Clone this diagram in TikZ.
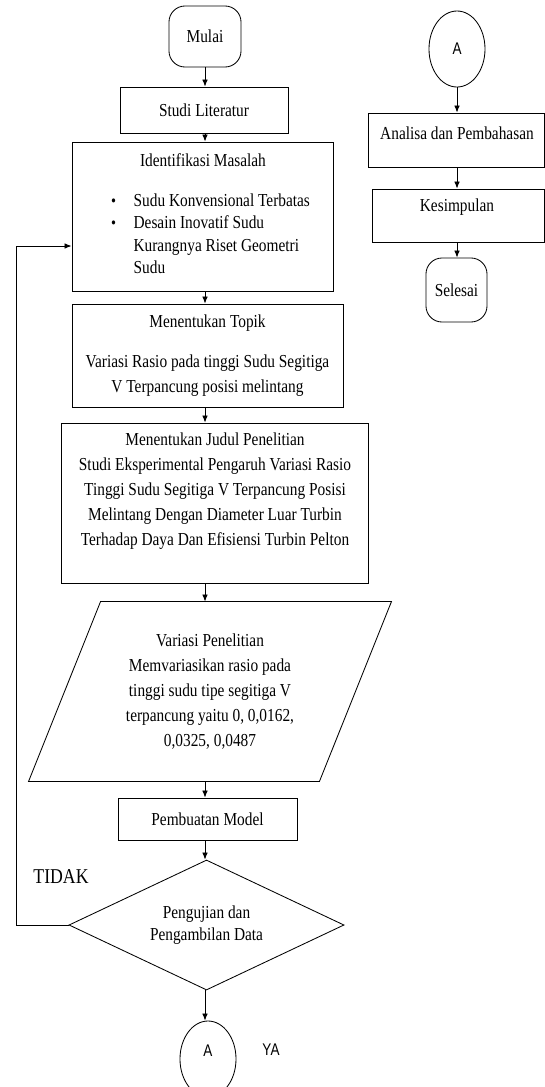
\documentclass[tikz,border=0pt]{standalone}
\usepackage{fontspec}
\setmainfont{Liberation Serif}[FakeStretch=0.84]
\newfontfamily\sansteks{Liberation Sans}[FakeStretch=0.8]
\usetikzlibrary{shapes.geometric,arrows.meta}

\tikzset{
  proses/.style={draw, rectangle, inner sep=0pt},
  terminal/.style={draw, rectangle, rounded corners=0.4cm, inner sep=0pt},
  konektor/.style={draw, ellipse, inner sep=0pt, minimum width=1.4cm, minimum height=1.9cm, font=\sansteks\fontsize{12}{14}\selectfont},
  keputusan/.style={draw, diamond, aspect=2.1, inner sep=0pt, align=center, font=\fontsize{13}{16}\selectfont},
  panah/.style={-{Latex[length=5pt,width=4pt]}},
  teks/.style={align=center}
}

\begin{document}
\begin{tikzpicture}[x=0.025cm, y=-0.025cm, line width=0.6pt,
  every node/.style={font=\fontsize{13}{17.8}\selectfont}]
\useasboundingbox (0,0) rectangle (545,1087);

% kolom kiri
\path (205,36.5) node[terminal, minimum width=1.8cm, minimum height=1.525cm] (mulai) {Mulai};
\path (204,110) node[proses, minimum width=4.2cm, minimum height=1.15cm] (studi) {Studi Literatur};

\path (202.5,216.5) node[proses, minimum width=6.525cm, minimum height=3.725cm] (identif) {};
\path (203,160) node (identJudul) {Identifikasi Masalah};
\path (106,233.5) node[anchor=west, align=left, font=\fontsize{13}{16}\selectfont] (identIsi)
  {\makebox[16pt][l]{\large\textbullet}Sudu Konvensional Terbatas\\
   \makebox[16pt][l]{\large\textbullet}Desain Inovatif Sudu\\
   \hspace*{16pt}Kurangnya Riset Geometri\\
   \hspace*{16pt}Sudu};

\path (207.5,355.5) node[proses, teks, minimum width=6.775cm, minimum height=2.575cm] (topik)
  {Menentukan Topik\\[11pt]Variasi Rasio pada tinggi Sudu Segitiga\\V Terpancung posisi melintang};

\path (214.5,503) node[proses, minimum width=7.675cm, minimum height=4cm] (judul) {};
\path (215,491.5) node[teks] (judulIsi)
  {Menentukan Judul Penelitian\\Studi Eksperimental Pengaruh Variasi Rasio\\Tinggi Sudu Segitiga V Terpancung Posisi\\Melintang Dengan Diameter Luar Turbin\\Terhadap Daya Dan Efisiensi Turbin Pelton};

% jajaran genjang
\path (210,691.5) node[teks, inner sep=0pt, minimum width=7.25cm, minimum height=4.475cm] (variasi)
  {Variasi Penelitian\\Memvariasikan rasio pada\\tinggi sudu tipe segitiga V\\terpancung yaitu 0, 0,0162,\\0,0325, 0,0487};
\draw ([xshift=0.9cm]variasi.north west) -- ([xshift=0.9cm]variasi.north east)
  -- ([xshift=-0.9cm]variasi.south east) -- ([xshift=-0.9cm]variasi.south west) -- cycle;

\path (207.5,819) node[proses, minimum width=4.475cm, minimum height=1.05cm] (model) {Pembuatan Model};
\path (206.5,925) node[keputusan, minimum width=6.875cm, minimum height=3.25cm] (uji) {Pengujian dan\\Pengambilan Data};
\path (208,1059) node[konektor] (a2) {\raisebox{6pt}[0.7em][0pt]{A}};
\path (271,1050) node[font=\sansteks\fontsize{12}{14}\selectfont] (ya) {YA};
\path (61,877) node[font=\fontsize{15}{18}\selectfont] (tidak) {TIDAK};
\coordinate (balik) at (16,246);

% kolom kanan
\path (457,49) node[konektor] (a1) {A};
\path (456,140) node[proses, minimum width=4.4cm, minimum height=1.35cm] (analisa) {};
\path (457,133) node (analisaIsi) {Analisa dan Pembahasan};
\path (458,215.5) node[proses, minimum width=4.3cm, minimum height=1.325cm] (simpul) {};
\path (457,207) node (simpulIsi) {Kesimpulan};
\path (456.5,290) node[terminal, minimum width=1.525cm, minimum height=1.6cm] (selesai) {Selesai};

% panah
\draw[panah] (mulai.south) -- (studi.north -| mulai);
\draw[panah] (studi.south -| mulai) -- (identif.north -| mulai);
\draw[panah] (identif.south -| mulai) -- (topik.north -| mulai);
\draw[panah] (topik.south -| mulai) -- (judul.north -| mulai);
\draw[panah] (judul.south -| mulai) -- (variasi.north -| mulai);
\draw[panah] (variasi.south -| mulai) -- (model.north -| mulai);
\draw[panah] (model.south -| mulai) -- (uji.north -| mulai);
\draw[panah] (uji.south -| mulai) -- (a2.north -| mulai);
\draw[panah] (uji.west) -| (balik) -- (balik -| identif.west);

\draw[panah] (a1.south) -- (analisa.north -| a1);
\draw[panah] (analisa.south -| a1) -- (simpul.north -| a1);
\draw[panah] (simpul.south -| a1) -- (selesai.north -| a1);
\end{tikzpicture}
\end{document}
